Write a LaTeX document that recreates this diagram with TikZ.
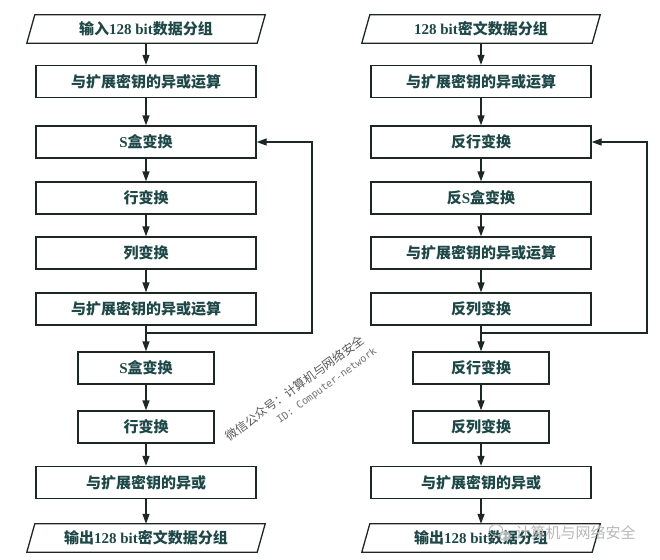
\documentclass[tikz,border=0pt]{standalone}
\usepackage{fontspec}
\usetikzlibrary{arrows.meta,calc}
\newfontfamily\cjk{Noto Sans CJK SC}
\newfontfamily\lat{Liberation Serif}
\newfontfamily\wmmono{DejaVu Sans Mono}
\definecolor{txt}{HTML}{1E4747}
\definecolor{ln}{HTML}{1E2626}
\tikzset{
  boxfont/.style={font=\cjk\bfseries\fontsize{15}{15}\selectfont},
  wbox/.style={draw=ln, line width=1.3pt, minimum width=220pt, minimum height=32pt, inner sep=0pt, text=txt, boxfont},
  nbox/.style={wbox, minimum width=136pt},
  pbox/.style={minimum width=230pt, minimum height=28pt, inner sep=0pt, text=txt, boxfont},
  arr/.style={draw=ln, line width=1.3pt, -{Triangle[length=10pt,width=7pt]}},
  pline/.style={draw=ln, line width=1.3pt, line join=miter}
}
\newcommand{\para}[1]{\draw[pline] ([xshift=-4pt]#1.south west) -- ([xshift=4pt]#1.north west) -- ([xshift=4pt]#1.north east) -- ([xshift=-4pt]#1.south east) -- cycle;}
\begin{document}
\begin{tikzpicture}[x=1pt,y=-1pt]
\useasboundingbox[fill=white] (0,0) rectangle (660,559);
% left column
\node[pbox] (L1) at (146,29) {输入{\lat\bfseries 128 bit}数据分组};
\node[wbox] (L2) at (146,81.5) {与扩展密钥的异或运算};
\node[wbox] (L3) at (146,142) {{\lat\bfseries S}盒变换};
\node[wbox] (L4) at (146,198) {行变换};
\node[wbox] (L5) at (146,253) {列变换};
\node[wbox] (L6) at (146,309) {与扩展密钥的异或运算};
\node[nbox] (L7) at (146,368) {{\lat\bfseries S}盒变换};
\node[nbox] (L8) at (146,427) {行变换};
\node[wbox] (L9) at (146,482.5) {与扩展密钥的异或};
\node[pbox] (L10) at (146,538) {输出{\lat\bfseries 128 bit}密文数据分组};
\para{L1}\para{L10}
% right column
\node[pbox] (R1) at (481,29) {{\lat\bfseries 128 bit}密文数据分组};
\node[wbox] (R2) at (481,81.5) {与扩展密钥的异或运算};
\node[wbox] (R3) at (481,142) {反行变换};
\node[wbox] (R4) at (481,198) {反{\lat\bfseries S}盒变换};
\node[wbox] (R5) at (481,253) {与扩展密钥的异或运算};
\node[wbox] (R6) at (481,309) {反列变换};
\node[nbox] (R7) at (481,368) {反行变换};
\node[nbox] (R8) at (481,427) {反列变换};
\node[wbox] (R9) at (481,482.5) {与扩展密钥的异或};
\node[pbox] (R10) at (481,538) {输出{\lat\bfseries 128 bit}数据分组};
\para{R1}\para{R10}
% arrows
\foreach \i [evaluate=\i as \j using int(\i+1)] in {1,...,9} {
  \draw[arr] (L\i.south) -- (L\j.north);
  \draw[arr] (R\i.south) -- (R\j.north);
}
% feedback loops
\coordinate (fbL) at (146,333);
\coordinate (fbR) at (481,333);
\draw[arr] (fbL) -- ++(166,0) |- (L3.east);
\draw[arr] (fbR) -- ++(166,0) |- (R3.east);
% watermarks
\node[rotate=36, text=black!65, font=\cjk\fontsize{12}{12}\selectfont] (wm1) at (295,388) {微信公众号：计算机与网络安全};
\node[rotate=36, text=black!55, font=\wmmono\fontsize{10}{10}\selectfont] (wm2) at (327,386) {ID: Computer-network};
\draw[black!30, line width=0.9pt] (496,530) ellipse (6.5 and 5.5);
\draw[black!30, line width=0.9pt, fill=white, fill opacity=0.6] (505,536) ellipse (5.5 and 4.5);
\node[text=black!28, font=\cjk\fontsize{15}{15}\selectfont, anchor=west] (wm3) at (512,533) {计算机与网络安全};
\end{tikzpicture}
\end{document}
